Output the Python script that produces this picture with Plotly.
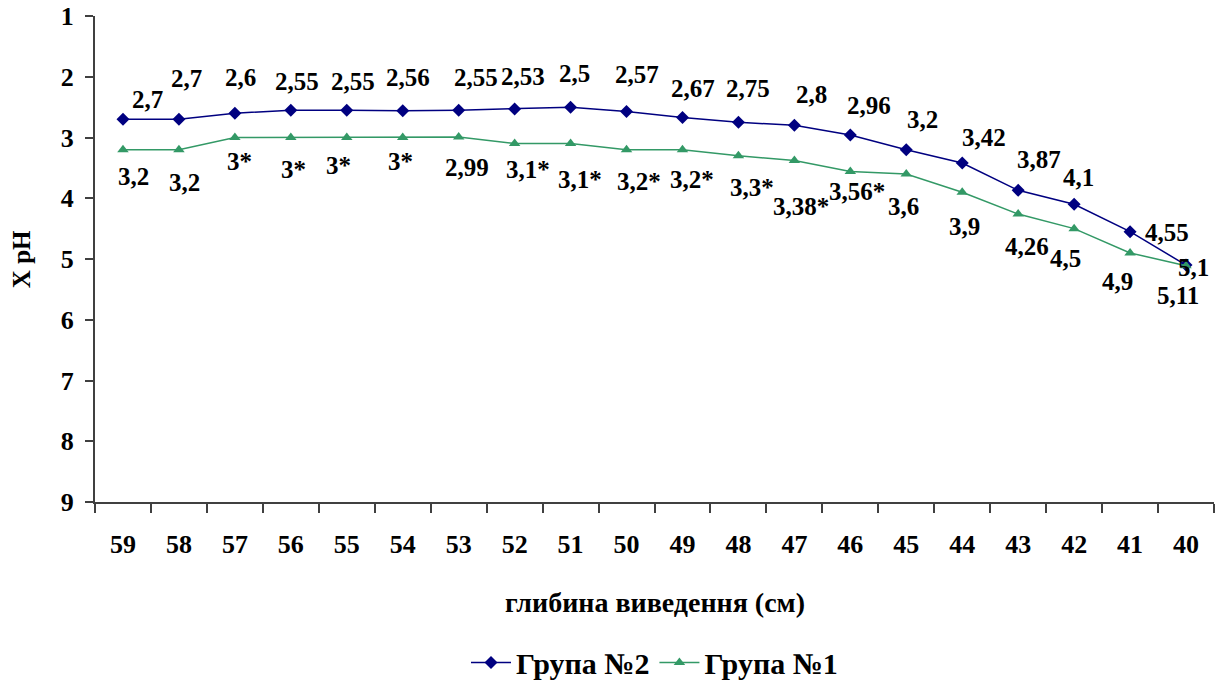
import plotly.graph_objects as go

depth = ["59", "58", "57", "56", "55", "54", "53", "52", "51", "50",
         "49", "48", "47", "46", "45", "44", "43", "42", "41", "40"]
group2 = [2.7, 2.7, 2.6, 2.55, 2.55, 2.56, 2.55, 2.53, 2.5, 2.57,
          2.67, 2.75, 2.8, 2.96, 3.2, 3.42, 3.87, 4.1, 4.55, 5.1]
group1 = [3.2, 3.2, 3.0, 3.0, 3.0, 3.0, 2.99, 3.1, 3.1, 3.2,
          3.2, 3.3, 3.38, 3.56, 3.6, 3.9, 4.26, 4.5, 4.9, 5.11]
labels2 = ["2,7", "2,7", "2,6", "2,55", "2,55", "2,56", "2,55", "2,53", "2,5", "2,57",
           "2,67", "2,75", "2,8", "2,96", "3,2", "3,42", "3,87", "4,1", "4,55", "5,1"]
labels1 = ["3,2", "3,2", "3*", "3*", "3*", "3*", "2,99", "3,1*", "3,1*", "3,2*",
           "3,2*", "3,3*", "3,38*", "3,56*", "3,6", "3,9", "4,26", "4,5", "4,9", "5,11"]
y_ticks = [1, 2, 3, 4, 5, 6, 7, 8, 9]

# label pixel offsets (style only)
off2 = [(25, -20), (8, -41), (6, -36), (6, -29), (6, -29), (5, -33), (17, -33), (8, -32),
        (4, -34), (10, -37), (11, -29), (10, -34), (17, -31), (19, -30), (16, -30),
        (22, -26), (21, -31), (4, -27), (37, 1), (7, 2)]
off1 = [(11, 27), (6, 33), (5, 24), (3, 32), (-8, 28), (-2, 24), (8, 31), (13, 26),
        (9, 36), (12, 32), (10, 30), (14, 32), (7, 46), (7, 20), (-3, 33), (2, 34),
        (9, 32), (-9, 30), (-13, 29), (-8, 30)]

FONT = "Liberation Serif"
NAVY = "#000080"
GREEN = "#339966"
AXIS = "#404040"


def f(size):
    return dict(family=FONT, size=size)


def b(s):
    return "<b>" + s + "</b>"


fig = go.Figure()
fig.add_trace(go.Scatter(
    x=depth, y=group2, name=b("Група №2"), mode="lines+markers",
    line=dict(color=NAVY, width=1.5),
    marker=dict(symbol="diamond", size=10, color=NAVY),
))
fig.add_trace(go.Scatter(
    x=depth, y=group1, name=b("Група №1"), mode="lines+markers",
    line=dict(color=GREEN, width=1.5),
    marker=dict(symbol="triangle-up", size=10, color=GREEN),
))

annotations = []
for ys, ls, offs in ((group2, labels2, off2), (group1, labels1, off1)):
    for i, (yv, lv, (dx, dy)) in enumerate(zip(ys, ls, offs)):
        annotations.append(dict(
            x=i, y=yv, xref="x", yref="y", text=b(lv), showarrow=False,
            xshift=dx, yshift=-dy, xanchor="center", yanchor="middle",
            font=f(25),
        ))

annotations.append(dict(
    x=0.5, y=-0.207, xref="paper", yref="paper", text=b("глибина виведення (см)"),
    showarrow=False, xanchor="center", yanchor="middle", font=f(28),
))
annotations.append(dict(
    x=-0.066, y=0.5, xref="paper", yref="paper", text=b("X pH"), textangle=-90,
    showarrow=False, xanchor="center", yanchor="middle", font=f(25),
))

fig.update_layout(
    width=1216, height=690,
    margin=dict(l=95, r=2, t=16, b=186),
    paper_bgcolor="white", plot_bgcolor="white",
    font=dict(family=FONT, color="#000000"),
    showlegend=True,
    legend=dict(orientation="h", x=0.5, xanchor="center", y=-0.33, yanchor="middle",
                font=f(30), itemwidth=40),
    annotations=annotations,
    xaxis=dict(
        type="category", range=[-0.5, 19.5], showgrid=False, zeroline=False,
        showline=True, linecolor=AXIS, linewidth=2,
        ticks="outside", tickson="boundaries", ticklen=9, tickcolor=AXIS, tickwidth=1.5,
        tickvals=depth, ticktext=[b(d) for d in depth],
        tickfont=f(26), ticklabelstandoff=18,
    ),
    yaxis=dict(
        range=[9, 1], tickvals=y_ticks, ticktext=[b(str(t)) for t in y_ticks],
        showgrid=False, zeroline=False,
        showline=True, linecolor=AXIS, linewidth=2,
        ticks="outside", ticklen=8, tickcolor=AXIS, tickwidth=1.5,
        tickfont=f(26), ticklabelstandoff=6,
    ),
)

fig.write_html("out.html")
